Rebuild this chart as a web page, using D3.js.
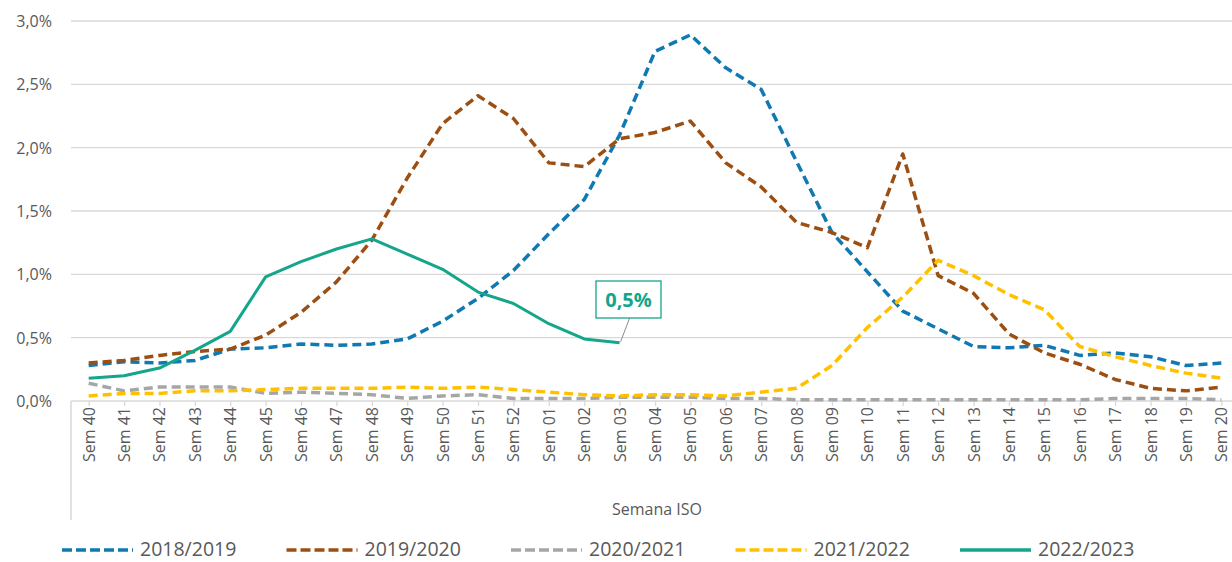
<!DOCTYPE html>
<head>
  <meta charset="utf-8">
  <script src="https://d3js.org/d3.v7.min.js"></script>
  <style>
    body { margin:0; background:#fff; }
    text { font-family: "Open Sans", sans-serif; fill: #595959; }
  </style>
</head>
<body>
  <div class="chart"></div>
  <script>

  // week labels (ISO weeks, season 40 -> 20)
  const weeks = ['Sem 40','Sem 41','Sem 42','Sem 43','Sem 44','Sem 45','Sem 46','Sem 47','Sem 48','Sem 49',
    'Sem 50','Sem 51','Sem 52','Sem 01','Sem 02','Sem 03','Sem 04','Sem 05','Sem 06','Sem 07','Sem 08',
    'Sem 09','Sem 10','Sem 11','Sem 12','Sem 13','Sem 14','Sem 15','Sem 16','Sem 17','Sem 18','Sem 19','Sem 20'];

  const seasons = ['2018/2019', '2019/2020', '2020/2021', '2021/2022', '2022/2023'];

  const s2018 = [0.28,0.31,0.30,0.32,0.41,0.42,0.45,0.44,0.45,0.49,0.63,0.81,1.03,1.32,1.59,2.10,2.76,2.89,2.63,2.46,1.89,
    1.33,1.02,0.71,0.57,0.43,0.42,0.44,0.36,0.38,0.35,0.28,0.30];
  const s2019 = [0.30,0.32,0.36,0.39,0.41,0.52,0.70,0.94,1.27,1.76,2.19,2.41,2.23,1.88,1.85,2.07,2.12,2.21,1.88,1.69,1.41,
    1.33,1.21,1.95,0.99,0.85,0.53,0.38,0.29,0.17,0.10,0.08,0.11];
  const s2020 = [0.14,0.08,0.11,0.11,0.11,0.06,0.07,0.06,0.05,0.02,0.04,0.05,0.02,0.02,0.02,0.03,0.03,0.03,0.02,0.02,0.01,
    0.01,0.01,0.01,0.01,0.01,0.01,0.01,0.01,0.02,0.02,0.02,0.01];
  const s2021 = [0.04,0.06,0.06,0.08,0.08,0.09,0.10,0.10,0.10,0.11,0.10,0.11,0.09,0.07,0.05,0.04,0.05,0.05,0.04,0.07,0.10,
    0.28,0.58,0.82,1.11,0.99,0.84,0.72,0.43,0.35,0.28,0.22,0.18];
  const s2022 = [0.18,0.20,0.26,0.40,0.55,0.98,1.10,1.20,1.28,1.16,1.04,0.86,0.77,0.61,0.49,0.46];

  const yTicks = [0, 0.5, 1.0, 1.5, 2.0, 2.5, 3.0];
  const lastLabel = '0,5%';

  const colors = ['#1079b1', '#9c4f12', '#a6a6a6', '#ffc000', '#14a58b'];
  const dashed = [true, true, true, true, false];
  const series = [s2018, s2019, s2020, s2021, s2022];

  const width = 1232, height = 562;

  const svg = d3.select('.chart')
    .append('svg')
      .attr('width', width)
      .attr('height', height);

  const x = d3.scalePoint()
    .domain(weeks)
    .range([71, 1239])
    .padding(0.5);

  const y = d3.scaleLinear()
    .domain([0, 3])
    .range([401, 21]);

  const fmt = v => d3.format('.1f')(v).replace('.', ',') + '%';

  // gridlines
  svg.append('g')
    .selectAll('line')
    .data(yTicks.filter(d => d > 0))
    .enter()
    .append('line')
      .attr('x1', 71).attr('x2', width)
      .attr('y1', d => y(d)).attr('y2', d => y(d))
      .style('stroke', '#d9d9d9')
      .style('stroke-width', 1.3);

  // y labels
  svg.append('g')
    .selectAll('text')
    .data(yTicks)
    .enter()
    .append('text')
      .attr('x', 52)
      .attr('y', d => y(d) + 6)
      .attr('text-anchor', 'end')
      .style('font-size', '16px')
      .text(fmt);

  // category axis
  const xAxis = svg.append('g')
    .attr('transform', `translate(0, ${y(0)})`)
    .call(d3.axisBottom(x).tickSize(5).tickFormat(''));
  xAxis.select('.domain').remove();
  xAxis.selectAll('.tick line').style('stroke', '#d9d9d9').style('stroke-width', 1.3);

  svg.append('line')
    .attr('x1', 71).attr('x2', width)
    .attr('y1', y(0)).attr('y2', y(0))
    .style('stroke', '#d9d9d9').style('stroke-width', 1.5);
  svg.append('line')
    .attr('x1', 71).attr('x2', 71)
    .attr('y1', y(0)).attr('y2', 520)
    .style('stroke', '#d9d9d9').style('stroke-width', 1.5);

  svg.append('g')
    .selectAll('text')
    .data(weeks)
    .enter()
    .append('text')
      .attr('transform', d => `translate(${x(d) + 6}, 407) rotate(-90)`)
      .attr('text-anchor', 'end')
      .style('font-size', '16px')
      .text(d => d);

  svg.append('text')
    .attr('x', 657)
    .attr('y', 515)
    .attr('text-anchor', 'middle')
    .style('font-size', '16px')
    .text('Semana ISO');

  // lines
  const line = d3.line()
    .x((d, i) => x(weeks[i]))
    .y(d => y(d));

  svg.append('g')
    .selectAll('path')
    .data(series)
    .enter()
    .append('path')
      .attr('d', d => line(d))
      .style('fill', 'none')
      .style('stroke', (d, i) => colors[i])
      .style('stroke-width', (d, i) => dashed[i] ? 3.5 : 3)
      .style('stroke-dasharray', (d, i) => dashed[i] ? '9,5' : null)
      .style('stroke-linejoin', 'round');

  // data label on the last point of the current season
  const lastIdx = s2022.length - 1;
  const px = x(weeks[lastIdx]), py = y(s2022[lastIdx]);
  svg.append('line')
    .attr('x1', px + 1).attr('y1', py - 1)
    .attr('x2', px + 10).attr('y2', 318)
    .style('stroke', '#8c8c8c').style('stroke-width', 1);
  svg.append('rect')
    .attr('x', 596).attr('y', 281)
    .attr('width', 65).attr('height', 37)
    .style('fill', '#fff')
    .style('stroke', colors[4]).style('stroke-width', 1.3);
  svg.append('text')
    .attr('x', 628.5).attr('y', 307)
    .attr('text-anchor', 'middle')
    .style('font-size', '20px')
    .style('font-weight', 'bold')
    .style('fill', colors[4])
    .text(lastLabel);

  // legend
  const legend = svg.append('g')
    .selectAll('g')
    .data(seasons)
    .enter()
    .append('g')
      .attr('transform', (d, i) => `translate(${62 + i * 224.5}, 550)`);
  legend.append('line')
    .attr('x1', 0).attr('x2', 71)
    .attr('y1', 0).attr('y2', 0)
    .style('stroke', (d, i) => colors[i])
    .style('stroke-width', 3.5)
    .style('stroke-dasharray', (d, i) => dashed[i] ? '10,4' : null);
  legend.append('text')
    .attr('x', 78).attr('y', 6)
    .style('font-size', '19.5px')
    .text(d => d);

  </script>
</body>
